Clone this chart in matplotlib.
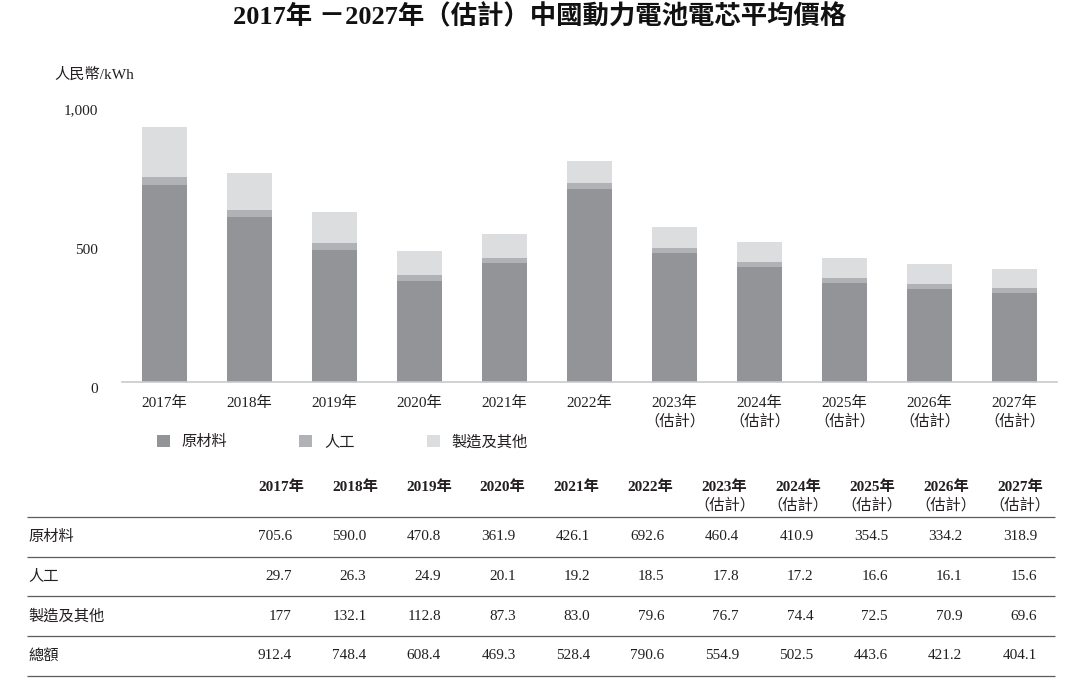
import numpy as np
import matplotlib.pyplot as plt
from matplotlib.patches import Patch
from matplotlib.transforms import ScaledTranslation

plt.rcParams['font.family'] = ['Liberation Serif', 'Noto Sans CJK TC']

years = [2017, 2018, 2019, 2020, 2021, 2022, 2023, 2024, 2025, 2026, 2027]
labels = [f'{y}年' + ('\n（估計）' if y >= 2023 else '') for y in years]

materials = [705.6, 590.0, 470.8, 361.9, 426.1, 692.6, 460.4, 410.9, 354.5, 334.2, 318.9]
labour = [29.7, 26.3, 24.9, 20.1, 19.2, 18.5, 17.8, 17.2, 16.6, 16.1, 15.6]
other = [177, 132.1, 112.8, 87.3, 83.0, 79.6, 76.7, 74.4, 72.5, 70.9, 69.6]
totals = [912.4, 748.4, 608.4, 469.3, 528.4, 790.6, 554.9, 502.5, 443.6, 421.2, 404.1]

names = ['原材料', '人工', '製造及其他']
row_names = names + ['總額']
colors = ['#939497', '#b1b2b5', '#dcdddf']
txt = '#231f20'

W, H = 1080, 694
fig = plt.figure(figsize=(W / 100, H / 100), dpi=100)

# table layer in pixel coords
tab = fig.add_axes([0, 0, 1, 1])
tab.set_xlim(0, W)
tab.set_ylim(H, 0)
tab.axis('off')

ax = fig.add_axes([122 / W, (H - 381.7) / H, 935 / W, 278.8 / H])
x = np.arange(len(years))
bottom = np.zeros(len(years))
for vals, c in zip([materials, labour, other], colors):
    ax.bar(x, vals, 0.53, bottom=bottom, color=c, zorder=2)
    bottom += np.array(vals)

ax.set_xlim(-0.5, len(years) - 0.5)
ax.set_ylim(0, 1000)
for s in ['top', 'right', 'left']:
    ax.spines[s].set_visible(False)
ax.spines['bottom'].set_color('#c8c9cb')
ax.spines['bottom'].set_linewidth(1.2)
ax.set_xticks(x)
ax.set_xticklabels(labels, linespacing=1.3)
ax.set_yticks([0, 500, 1000])
ax.set_yticklabels(['0', '500', '1,000'])
ax.tick_params(axis='y', length=0, pad=17.3, labelsize=11, colors=txt)
ax.tick_params(axis='x', length=0, pad=10.5, labelsize=11, colors=txt)
off = ScaledTranslation(0, -4.5 / 72, fig.dpi_scale_trans)
for lab in ax.get_yticklabels():
    lab.set_transform(lab.get_transform() + off)

fig.text(0.5, 1 - 17 / H, '2017年 －2027年（估計）中國動力電池電芯平均價格',
         ha='center', va='center', fontsize=19, fontweight='bold', color='#111111')
fig.text(54 / W, 1 - 75 / H, '人民幣/kWh', ha='left', va='center', fontsize=11, color=txt)

handles = [Patch(facecolor=c, label=n) for c, n in zip(colors, names)]
fig.legend(handles=handles, loc='center left', bbox_to_anchor=(157 / W, 1 - 442 / H),
           ncol=3, frameon=False, fontsize=11, handlelength=0.85, handleheight=0.85,
           handletextpad=0.78, columnspacing=4.7, borderpad=0, borderaxespad=0,
           labelcolor=txt)

# table
line_ys = [516.7, 556.5, 596.3, 636.0, 675.7]
tab.hlines(line_ys, 27, 1055, color='#5b5b5b', lw=0.9)
row_ys = [(a + b) / 2 for a, b in zip(line_ys[:-1], line_ys[1:])]
rows = [materials, labour, other, totals]
for i, lab in enumerate(labels):
    cx = 281 + 73.9 * i
    for k, part in enumerate(lab.split('\n')):
        tab.text(cx, 487 + 18 * k, part, ha='center', va='center', fontsize=11,
                 fontweight='bold' if k == 0 else 'normal', color=txt)
    rx = 292 + 74.5 * i
    for ry, vals in zip(row_ys, rows):
        tab.text(rx, ry, str(vals[i]), ha='right', va='center', fontsize=11, color=txt)
for ry, n in zip(row_ys, row_names):
    tab.text(28, ry, n, ha='left', va='center', fontsize=11, color=txt)

fig.savefig('out.png', dpi=100)
